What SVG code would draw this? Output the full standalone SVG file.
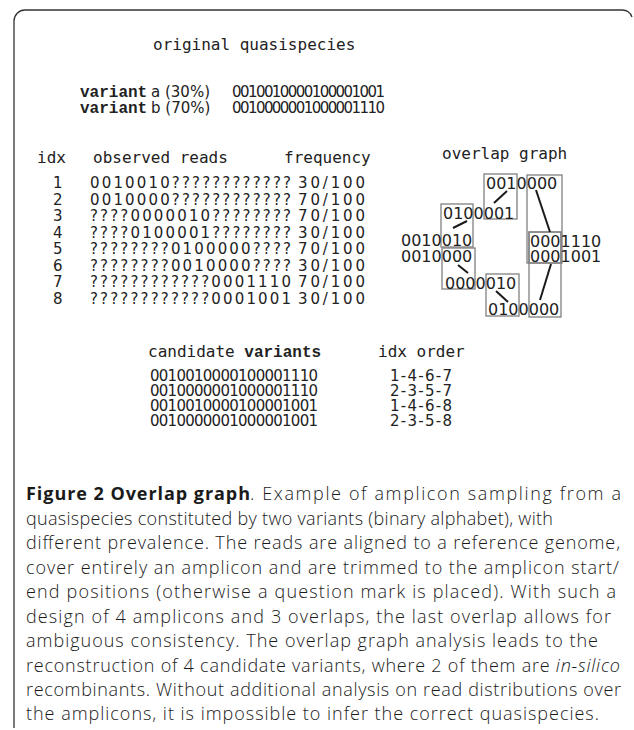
<svg xmlns="http://www.w3.org/2000/svg" width="634" height="730" viewBox="0 0 634 730">
<style>
.mono{font-family:"DejaVu Sans Mono",monospace;font-size:16px;fill:#222}
.cour{font-family:"Liberation Mono",monospace;font-size:16px;font-weight:bold;fill:#222}
.sans{font-family:"DejaVu Sans",sans-serif;font-size:15px;fill:#222}
.og{font-family:"DejaVu Sans",sans-serif;font-size:16px;fill:#222}
.box{fill:none;stroke:#808080;stroke-width:1.3}
.edge{stroke:#1a1a1a;stroke-width:2;fill:none}
.cap{font-family:"Open Sans",sans-serif;font-size:18px;font-weight:300;fill:#1a1a1a}
</style>
<rect width="634" height="730" fill="#fff"/>
<path d="M14,728 V21 A11,11 0 0 1 25,10 H622 A10,10 0 0 1 632,17" fill="none" stroke="#333" stroke-width="1.3"/>

<g id="original">
<text class="mono" x="153" y="50" font-size="18">original quasispecies</text>
<text class="cour" x="80" y="97" font-size="15">variant</text>
<text class="sans" x="151" y="97" font-size="15">a (30%)</text>
<text class="sans" x="232" y="97" font-size="13.5" textLength="153" lengthAdjust="spacing">0010010000100001001</text>
<text class="cour" x="80" y="113" font-size="15">variant</text>
<text class="sans" x="151" y="113" font-size="15">b (70%)</text>
<text class="sans" x="232" y="113" font-size="13.5" textLength="153" lengthAdjust="spacing">0010000001000001110</text>
</g>

<g id="reads-table">
<text class="mono" x="37" y="163">idx</text>
<text class="mono" x="93" y="163">observed reads</text>
<text class="mono" x="284" y="163">frequency</text>
<g class="sans" font-size="16">
<text x="53" y="188">1</text><text x="90" y="188" textLength="201" lengthAdjust="spacing">0010010????????????</text><text x="298" y="188" textLength="67" lengthAdjust="spacing">30/100</text>
<text x="53" y="204.5">2</text><text x="90" y="204.5" textLength="201" lengthAdjust="spacing">0010000????????????</text><text x="298" y="204.5" textLength="67" lengthAdjust="spacing">70/100</text>
<text x="53" y="221">3</text><text x="90" y="221" textLength="201" lengthAdjust="spacing">????0000010????????</text><text x="298" y="221" textLength="67" lengthAdjust="spacing">70/100</text>
<text x="53" y="237.5">4</text><text x="90" y="237.5" textLength="201" lengthAdjust="spacing">????0100001????????</text><text x="298" y="237.5" textLength="67" lengthAdjust="spacing">30/100</text>
<text x="53" y="254">5</text><text x="90" y="254" textLength="201" lengthAdjust="spacing">????????0100000????</text><text x="298" y="254" textLength="67" lengthAdjust="spacing">70/100</text>
<text x="53" y="270.5">6</text><text x="90" y="270.5" textLength="201" lengthAdjust="spacing">????????0010000????</text><text x="298" y="270.5" textLength="67" lengthAdjust="spacing">30/100</text>
<text x="53" y="287">7</text><text x="90" y="287" textLength="201" lengthAdjust="spacing">????????????0001110</text><text x="298" y="287" textLength="67" lengthAdjust="spacing">70/100</text>
<text x="53" y="303.5">8</text><text x="90" y="303.5" textLength="201" lengthAdjust="spacing">????????????0001001</text><text x="298" y="303.5" textLength="67" lengthAdjust="spacing">30/100</text>
</g>
</g>

<g id="overlap-graph">
<text class="mono" x="442" y="159" font-size="17">overlap graph</text>
<g id="boxes">
<rect class="box" x="441" y="204" width="32" height="43"/>
<rect class="box" x="442" y="248" width="33" height="41"/>
<rect class="box" x="484" y="174" width="33" height="45"/>
<rect class="box" x="486" y="274" width="33" height="42"/>
<rect class="box" x="527" y="175" width="35" height="88"/>
<rect class="box" x="529" y="232" width="32" height="31"/>
<rect class="box" x="529" y="232" width="32" height="85"/>
</g>
<g id="read6"><text class="og" x="486" y="189">0010000</text></g>
<g id="read4"><text class="og" x="443" y="219">0100001</text></g>
<g id="read1"><text class="og" x="401" y="246">0010010</text></g>
<g id="read2"><text class="og" x="401" y="262">0010000</text></g>
<g id="read3"><text class="og" x="445" y="289">0000010</text></g>
<g id="read5"><text class="og" x="488" y="315">0100000</text></g>
<g id="read7"><text class="og" x="530" y="247">0001110</text></g>
<g id="read8"><text class="og" x="530" y="262">0001001</text></g>
<g id="connectors">
<line class="edge" x1="453" y1="228" x2="467" y2="221"/>
<line class="edge" x1="458" y1="265" x2="468" y2="273"/>
<line class="edge" x1="494" y1="203" x2="507" y2="191"/>
<line class="edge" x1="496" y1="291" x2="508" y2="302"/>
<line class="edge" x1="536" y1="190" x2="550" y2="232"/>
<line class="edge" x1="551" y1="264" x2="540" y2="300"/>
</g>
</g>

<g id="candidates">
<text x="148" y="357"><tspan class="mono">candidate</tspan><tspan class="cour"> variants</tspan></text>
<text class="mono" x="378" y="357" font-size="17">idx order</text>
<g class="sans" font-size="14">
<text x="150" y="381" textLength="168" lengthAdjust="spacing">0010010000100001110</text><text x="390" y="381" font-size="15" textLength="62" lengthAdjust="spacing">1-4-6-7</text>
<text x="150" y="396" textLength="168" lengthAdjust="spacing">0010000001000001110</text><text x="390" y="396" font-size="15" textLength="62" lengthAdjust="spacing">2-3-5-7</text>
<text x="150" y="411" textLength="168" lengthAdjust="spacing">0010010000100001001</text><text x="390" y="411" font-size="15" textLength="62" lengthAdjust="spacing">1-4-6-8</text>
<text x="150" y="426" textLength="168" lengthAdjust="spacing">0010000001000001001</text><text x="390" y="426" font-size="15" textLength="62" lengthAdjust="spacing">2-3-5-8</text>
</g>
</g>

<g id="caption" class="cap">
<text x="26" y="500" font-weight="bold" textLength="224" lengthAdjust="spacing">Figure 2 Overlap graph</text>
<text x="250" y="500" textLength="371" lengthAdjust="spacing">. Example of amplicon sampling from a</text>
<text x="26" y="525" textLength="527" lengthAdjust="spacing">quasispecies constituted by two variants (binary alphabet), with</text>
<text x="26" y="549" textLength="594" lengthAdjust="spacing">different prevalence. The reads are aligned to a reference genome,</text>
<text x="26" y="574" textLength="593" lengthAdjust="spacing">cover entirely an amplicon and are trimmed to the amplicon start/</text>
<text x="26" y="598" textLength="590" lengthAdjust="spacing">end positions (otherwise a question mark is placed). With such a</text>
<text x="26" y="623" textLength="585" lengthAdjust="spacing">design of 4 amplicons and 3 overlaps, the last overlap allows for</text>
<text x="26" y="647" textLength="572" lengthAdjust="spacing">ambiguous consistency. The overlap graph analysis leads to the</text>
<text x="26" y="672" textLength="594" lengthAdjust="spacing">reconstruction of 4 candidate variants, where 2 of them are <tspan font-style="italic">in-silico</tspan></text>
<text x="26" y="696" textLength="595" lengthAdjust="spacing">recombinants. Without additional analysis on read distributions over</text>
<text x="26" y="720" textLength="573" lengthAdjust="spacing">the amplicons, it is impossible to infer the correct quasispecies.</text>
</g>
</svg>
